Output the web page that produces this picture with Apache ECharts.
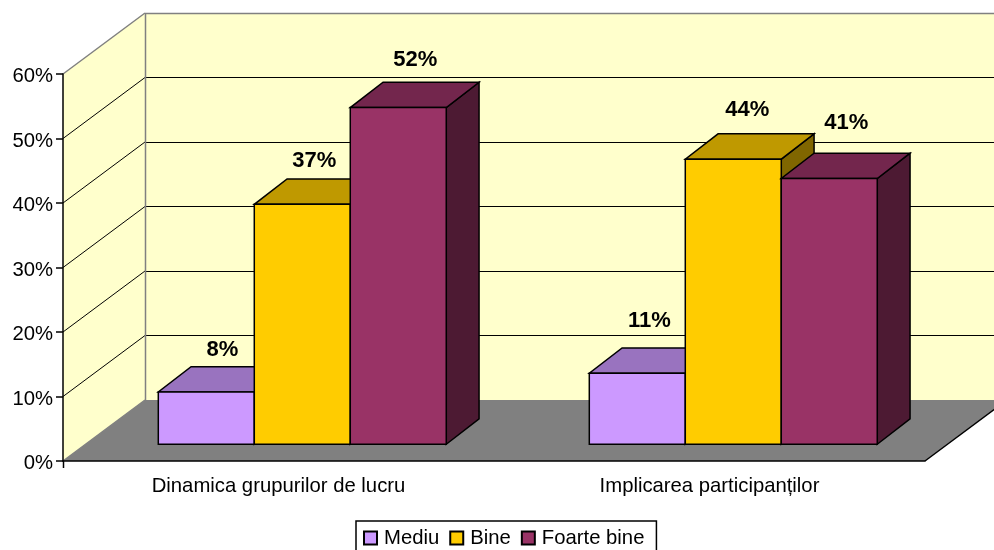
<!DOCTYPE html>
<html>
<head>
<meta charset="utf-8">
<title>Chart</title>
<script src="https://cdn.jsdelivr.net/npm/echarts@6/dist/echarts.min.js"></script>
<style>
    html, body {margin: 0; padding: 0; background: #fff;}
    #main {width: 994px; height: 550px; overflow: hidden;}
</style>
</head>
<body>
<div id="main"></div>
<script>

var categories = ['Dinamica grupurilor de lucru', 'Implicarea participanților'];
var seriesNames = ['Mediu', 'Bine', 'Foarte bine'];
var mediu = [8.1, 11];
var bine = [37.2, 44.2];
var foarteBine = [52.2, 41.2];
var yTicks = [0, 10, 20, 30, 40, 50, 60];

// front, top and side shade of every bar colour
var shades = [
    ['#CC99FF', '#9973BF', '#664D80'],
    ['#FFCC00', '#BF9900', '#806600'],
    ['#993366', '#73264D', '#4D1A33']
];

// 3d look: how far the back wall is moved from the front plane
var depthX = 82;
var depthY = -61;
var barFrontX = 0.29;
var barFrontY = 0.275;
var barBack = 0.69;
var barShare = 0.2227;

// data labels do not sit at one fixed place in the picture
var labelOffsets = [
    [[16, -42], [12, -52]],
    [[12, -43], [14, -49]],
    [[17, -48], [17, -56]]
];

function crisp(v) {
    return Math.round(v - 0.5) + 0.5;
}

function lineEl(x1, y1, x2, y2, color, width) {
    return {
        type: 'line',
        shape: {x1: x1, y1: y1, x2: x2, y2: y2},
        style: {stroke: color, lineWidth: width || 1, fill: null}
    };
}

function polyEl(points, fill, stroke) {
    return {
        type: 'polygon',
        shape: {points: points},
        style: {fill: fill, stroke: stroke || null, lineWidth: 1.5, lineJoin: 'miter'}
    };
}

// walls, floor and gridlines
function renderFrame(params, api) {
    var box = params.coordSys;
    var left = box.x;
    var right = box.x + box.width;
    var y0 = api.coord([0, yTicks[0]])[1];
    var yTop = api.coord([0, yTicks[yTicks.length - 1]])[1];
    var kids = [];

    kids.push(polyEl([[left, y0], [left, yTop], [left + depthX, yTop + depthY], [left + depthX, y0 + depthY]], '#FFFFCC'));
    kids.push(polyEl([[left + depthX, yTop + depthY], [right + depthX, yTop + depthY], [right + depthX, y0 + depthY], [left + depthX, y0 + depthY]], '#FFFFCC'));
    kids.push(polyEl([[left, y0], [right, y0], [right + depthX, y0 + depthY], [left + depthX, y0 + depthY]], '#808080'));

    yTicks.forEach(function (t) {
        if (t === 0) return;
        var y = api.coord([0, t])[1];
        var isTop = t === yTicks[yTicks.length - 1];
        var color = isTop ? '#808080' : '#000000';
        kids.push(lineEl(left, y, left + depthX, y + depthY, color, isTop ? 1.5 : 1));
        kids.push(lineEl(left + depthX, crisp(y + depthY), right + depthX, crisp(y + depthY), color, isTop ? 1.5 : 1));
    });

    kids.push(lineEl(crisp(left + depthX), yTop + depthY, crisp(left + depthX), y0 + depthY, '#808080', 1.5));
    kids.push(lineEl(left, y0, left + depthX, y0 + depthY, '#808080', 1.5));
    kids.push(lineEl(right, y0, right + depthX, y0 + depthY, '#000000', 1.5));
    kids.push(lineEl(crisp(left), y0, crisp(left), y0 + 7, '#000000', 1.5));

    return {type: 'group', children: kids};
}

function makeRenderBar(seriesIdx) {
    return function (params, api) {
        var cat = api.value(0);
        var val = api.value(1);
        var top = api.coord([cat, val]);
        var base = api.coord([cat, 0]);
        var barW = api.size([1, 0])[0] * barShare;
        var cx = top[0] + (seriesIdx - 1) * barW;

        var x1 = cx - barW / 2 + barFrontX * depthX;
        var x2 = cx + barW / 2 + barFrontX * depthX;
        var yB = base[1] + barFrontY * depthY;
        var yT = top[1] + barFrontY * depthY;
        var dx = (barBack - barFrontX) * depthX;
        var dy = (barBack - barFrontY) * depthY;
        var col = shades[seriesIdx];
        var off = labelOffsets[seriesIdx][cat];

        return {
            type: 'group',
            children: [
                polyEl([[x2, yB], [x2 + dx, yB + dy], [x2 + dx, yT + dy], [x2, yT]], col[2], '#000000'),
                polyEl([[x1, yT], [x2, yT], [x2 + dx, yT + dy], [x1 + dx, yT + dy]], col[1], '#000000'),
                polyEl([[x1, yB], [x2, yB], [x2, yT], [x1, yT]], col[0], '#000000'),
                {
                    type: 'text',
                    style: {
                        x: (x1 + x2) / 2 + off[0],
                        y: yT + off[1],
                        text: Math.round(val) + '%',
                        fill: '#000000',
                        font: 'bold 22px "Liberation Sans"',
                        align: 'center',
                        verticalAlign: 'middle'
                    }
                }
            ]
        };
    };
}

function barSeries(idx, values) {
    return {
        name: seriesNames[idx],
        type: 'custom',
        coordinateSystem: 'cartesian2d',
        renderItem: makeRenderBar(idx),
        itemStyle: {color: shades[idx][0], borderColor: '#000000', borderWidth: 1.5},
        encode: {x: 0, y: 1},
        z: 2,
        data: values.map(function (v, i) {
            return [i, v];
        })
    };
}

var myChart = echarts.init(document.getElementById('main'), null, {renderer: 'canvas'});

var option = {
    animation: false,
    grid: {left: 63, top: 74, width: 862, height: 387},
    legend: {
        left: 356,
        top: 521,
        padding: [7, 12, 7, 7],
        itemWidth: 13,
        itemHeight: 13,
        itemGap: 10,
        selectedMode: false,
        backgroundColor: '#ffffff',
        borderColor: '#000000',
        borderWidth: 1.5,
        borderRadius: 0,
        icon: 'rect',
        data: seriesNames,
        textStyle: {fontFamily: 'Liberation Sans', fontSize: 20.3, color: '#000000', padding: [0, 0, 0, 2]}
    },
    xAxis: {
        type: 'category',
        data: categories,
        z: 3,
        axisLine: {lineStyle: {color: '#000000', width: 1.5}},
        axisTick: {length: 7, lineStyle: {color: '#808080', width: 1.5}},
        axisLabel: {margin: 15, fontFamily: 'Liberation Sans', fontSize: 20.3, color: '#000000', interval: 0},
        splitLine: {show: false}
    },
    yAxis: {
        type: 'value',
        min: 0,
        max: 60,
        interval: 10,
        z: 3,
        axisLine: {show: true, lineStyle: {color: '#000000', width: 1.5}},
        axisTick: {show: true, length: 7, lineStyle: {color: '#000000', width: 1.5}},
        axisLabel: {
            margin: 10,
            color: '#000000',
            // rich box pushes the text a little under its tick
            formatter: function (v) {
                return '{t|' + v + '%}';
            },
            rich: {
                t: {fontFamily: 'Liberation Sans', fontSize: 20.3, color: '#000000', padding: [5, 0, 0, 0]}
            }
        },
        splitLine: {show: false}
    },
    series: [
        {
            name: 'frame',
            type: 'custom',
            coordinateSystem: 'cartesian2d',
            renderItem: renderFrame,
            silent: true,
            z: 1,
            encode: {x: 0, y: 1},
            data: [[0, 0]]
        },
        barSeries(0, mediu),
        barSeries(1, bine),
        barSeries(2, foarteBine)
    ]
};

myChart.setOption(option);
</script>
</body>
</html>
